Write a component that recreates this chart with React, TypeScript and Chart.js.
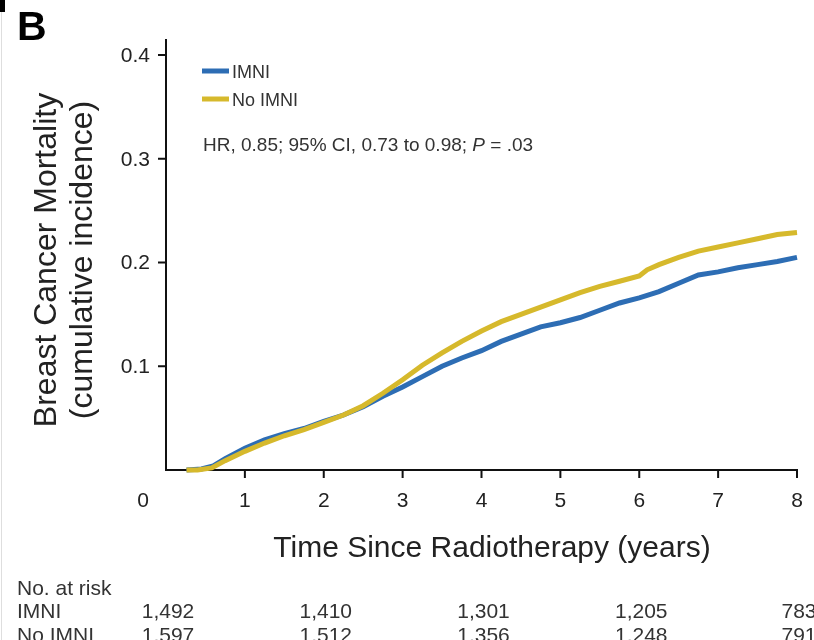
import React, { useEffect, useRef } from "react";
import { Chart, registerables } from "chart.js";

Chart.register(...registerables);

// Cumulative incidence of breast cancer mortality by time since radiotherapy (years)
const imniYears = [0.26, 0.45, 0.6, 0.75, 1.0, 1.25, 1.5, 1.75, 2.0, 2.25, 2.5, 2.75, 3.0, 3.25, 3.5, 3.75, 4.0, 4.25, 4.5, 4.75, 5.0, 5.25, 5.5, 5.75, 6.0, 6.25, 6.5, 6.75, 7.0, 7.25, 7.5, 7.75, 8.0];
const imniIncidence = [0, 0.001, 0.004, 0.011, 0.021, 0.029, 0.035, 0.04, 0.047, 0.053, 0.061, 0.071, 0.08, 0.09, 0.1, 0.108, 0.115, 0.124, 0.131, 0.138, 0.142, 0.147, 0.154, 0.161, 0.166, 0.172, 0.18, 0.188, 0.191, 0.195, 0.198, 0.201, 0.205];

const noImniYears = [0.26, 0.4, 0.58, 0.75, 1.0, 1.25, 1.5, 1.75, 2.0, 2.25, 2.5, 2.75, 3.0, 3.25, 3.5, 3.75, 4.0, 4.25, 4.5, 4.75, 5.0, 5.25, 5.5, 5.75, 6.0, 6.1, 6.25, 6.5, 6.75, 7.0, 7.25, 7.5, 7.75, 8.0];
const noImniIncidence = [0, 0, 0.002, 0.009, 0.018, 0.026, 0.033, 0.039, 0.046, 0.053, 0.062, 0.074, 0.087, 0.101, 0.113, 0.124, 0.134, 0.143, 0.15, 0.157, 0.164, 0.171, 0.177, 0.182, 0.187, 0.193, 0.198, 0.205, 0.211, 0.215, 0.219, 0.223, 0.227, 0.229];

const xTicks = [1, 2, 3, 4, 5, 6, 7, 8];
const yTicks = [0.1, 0.2, 0.3, 0.4];
const yTickLabels = ["0.1", "0.2", "0.3", "0.4"];

const seriesNames = ["IMNI", "No IMNI"];
const seriesColors = ["#2d6db4", "#d6b92c"];

const riskYears = [0, 2, 4, 6, 8];
const imniAtRisk = ["1,492", "1,410", "1,301", "1,205", "783"];
const noImniAtRisk = ["1,597", "1,512", "1,356", "1,248", "791"];

const FONT = '"Liberation Sans", Arial, Helvetica, sans-serif';

const annotations = {
  id: "kmAnnotations",
  beforeDatasetsDraw(chart: any) {
    const { ctx } = chart;
    const xs = chart.scales.x;
    const ys = chart.scales.y;
    const x0 = xs.getPixelForValue(0);
    const x8 = xs.getPixelForValue(8);
    const y0 = ys.getPixelForValue(0);
    const yTop = ys.getPixelForValue(ys.max);
    ctx.save();
    ctx.strokeStyle = "#111";
    ctx.lineWidth = 2;
    ctx.beginPath();
    ctx.moveTo(x0, yTop);
    ctx.lineTo(x0, y0 + 1);
    ctx.moveTo(x0 - 1, y0);
    ctx.lineTo(x8 + 1, y0);
    // tick marks
    yTicks.forEach((v) => {
      const py = ys.getPixelForValue(v);
      ctx.moveTo(x0 - 8, py);
      ctx.lineTo(x0, py);
    });
    xTicks.forEach((v) => {
      const px = xs.getPixelForValue(v);
      ctx.moveTo(px, y0);
      ctx.lineTo(px, y0 + 8);
    });
    ctx.stroke();
    ctx.restore();
  },
  afterDraw(chart: any) {
    const { ctx } = chart;
    const xs = chart.scales.x;
    const ys = chart.scales.y;
    const x0 = xs.getPixelForValue(0);
    const y0 = ys.getPixelForValue(0);
    ctx.save();

    // page edge and panel letter
    ctx.strokeStyle = "#dedede";
    ctx.lineWidth = 1;
    ctx.beginPath();
    ctx.moveTo(1.5, 6);
    ctx.lineTo(1.5, 640);
    ctx.stroke();
    ctx.fillStyle = "#000";
    ctx.fillRect(0, 0, 5, 12);
    ctx.font = `bold 41px ${FONT}`;
    ctx.textAlign = "left";
    ctx.textBaseline = "alphabetic";
    ctx.fillText("B", 17, 40);

    // tick labels
    ctx.fillStyle = "#222";
    ctx.font = `21px ${FONT}`;
    ctx.textAlign = "right";
    ctx.textBaseline = "middle";
    yTicks.forEach((v, i) => {
      ctx.fillText(yTickLabels[i], x0 - 16, ys.getPixelForValue(v) + 1);
    });
    ctx.textAlign = "center";
    ctx.textBaseline = "alphabetic";
    xTicks.forEach((v) => {
      ctx.fillText(String(v), xs.getPixelForValue(v), y0 + 37);
    });
    ctx.fillText("0", x0 - 23, y0 + 37);

    // axis titles
    ctx.font = `30px ${FONT}`;
    ctx.fillText("Time Since Radiotherapy (years)", 492, 557);
    ctx.save();
    ctx.translate(0, 260);
    ctx.rotate(-Math.PI / 2);
    ctx.font = `32px ${FONT}`;
    ctx.fillText("Breast Cancer Mortality", 0, 56);
    ctx.fillText("(cumulative incidence)", 0, 92);
    ctx.restore();

    // legend
    ctx.font = `18px ${FONT}`;
    ctx.textAlign = "left";
    const legendRows = [71, 99];
    seriesNames.forEach((name, i) => {
      ctx.strokeStyle = seriesColors[i];
      ctx.lineWidth = 5;
      ctx.beginPath();
      ctx.moveTo(202, legendRows[i]);
      ctx.lineTo(229, legendRows[i]);
      ctx.stroke();
      ctx.fillStyle = "#333";
      ctx.fillText(name, 232, legendRows[i] + 7);
    });

    // hazard ratio statement
    ctx.font = `19px ${FONT}`;
    const part1 = "HR, 0.85; 95% CI, 0.73 to 0.98; ";
    ctx.fillText(part1, 203, 151);
    let cx = 203 + ctx.measureText(part1).width;
    ctx.font = `italic 19px ${FONT}`;
    ctx.fillText("P", cx, 151);
    cx += ctx.measureText("P").width;
    ctx.font = `19px ${FONT}`;
    ctx.fillText(" = .03", cx, 151);

    // number at risk table
    ctx.fillStyle = "#333";
    ctx.font = `21px ${FONT}`;
    ctx.fillText("No. at risk", 17, 595);
    ctx.fillText("IMNI", 17, 618);
    ctx.fillText("No IMNI", 17, 642);
    ctx.textAlign = "center";
    riskYears.forEach((yr, i) => {
      const px = xs.getPixelForValue(yr) + 2;
      ctx.fillText(imniAtRisk[i], px, 618);
      ctx.fillText(noImniAtRisk[i], px, 642);
    });
    ctx.restore();
  },
};

export default function App() {
  const canvasRef = useRef<HTMLCanvasElement | null>(null);

  useEffect(() => {
    if (!canvasRef.current) return;
    const chart = new Chart(canvasRef.current, {
      type: "line",
      data: {
        datasets: [
          {
            label: seriesNames[1],
            data: noImniYears.map((t, i) => ({ x: t, y: noImniIncidence[i] })),
            borderColor: seriesColors[1],
            borderWidth: 5,
            pointRadius: 0,
            fill: false,
            tension: 0,
            clip: false as any,
            order: 0,
          },
          {
            label: seriesNames[0],
            data: imniYears.map((t, i) => ({ x: t, y: imniIncidence[i] })),
            borderColor: seriesColors[0],
            borderWidth: 5,
            pointRadius: 0,
            fill: false,
            tension: 0,
            clip: false as any,
            order: 1,
          },
        ],
      },
      options: {
        animation: false,
        responsive: false,
        devicePixelRatio: 1,
        layout: { padding: { left: 166, right: 17, top: 39, bottom: 170 } },
        scales: {
          x: { type: "linear", min: 0, max: 8, display: false },
          y: { type: "linear", min: 0, max: 0.4155, display: false },
        },
        plugins: {
          legend: { display: false },
          tooltip: { enabled: false },
        },
      },
      plugins: [annotations],
    });
    return () => chart.destroy();
  }, []);

  return (
    <div style={{ position: "fixed", left: 0, top: 0, width: 814, height: 640, background: "#fff" }}>
      <canvas ref={canvasRef} width={814} height={640} style={{ width: 814, height: 640, display: "block" }} />
    </div>
  );
}
